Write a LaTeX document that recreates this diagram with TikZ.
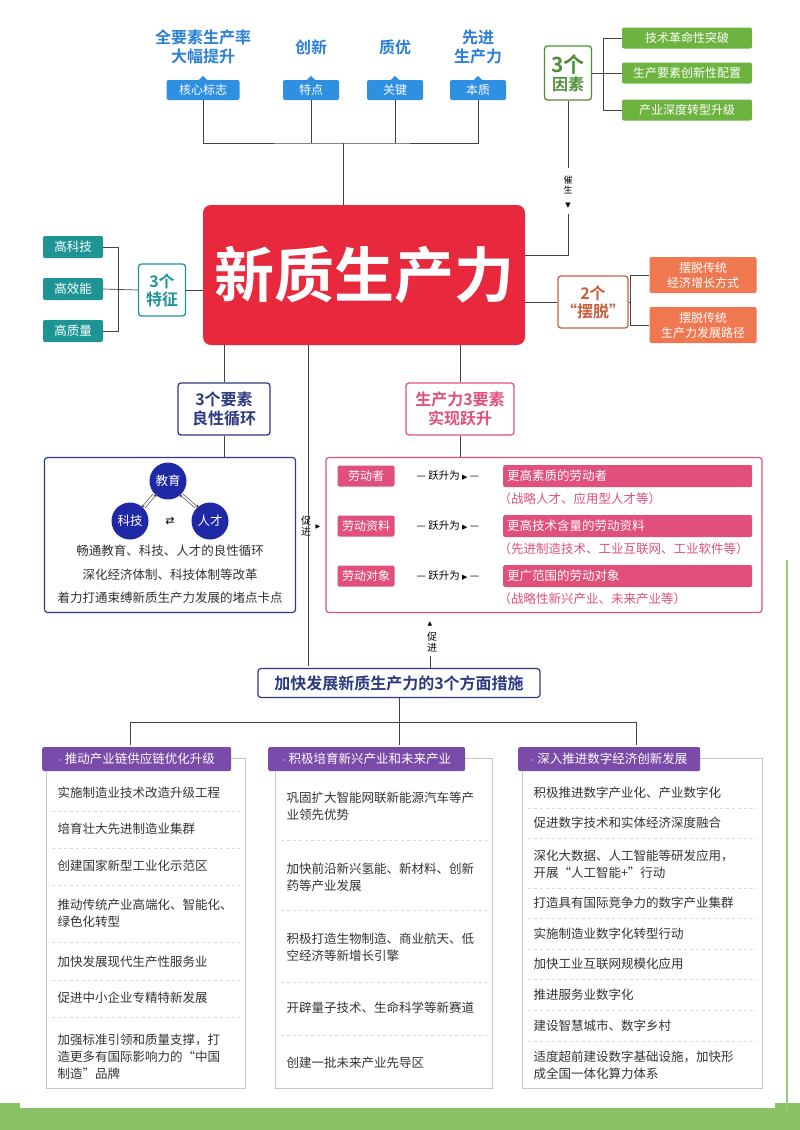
\documentclass[tikz,border=0pt]{standalone}
\usepackage{fontspec}
\setmainfont{Noto Sans CJK SC}
\newfontfamily\cjkb{Noto Sans CJK SC Bold}
\newfontfamily\dv{DejaVu Sans}
\usetikzlibrary{positioning}
\definecolor{bl}{HTML}{2F8FE0}
\definecolor{blt}{HTML}{2A7FD6}
\definecolor{gr}{HTML}{6DB33F}
\definecolor{grd}{HTML}{4E8F35}
\definecolor{tl}{HTML}{1E9494}
\definecolor{rd}{HTML}{E8283C}
\definecolor{og}{HTML}{F07850}
\definecolor{ogd}{HTML}{C8603E}
\definecolor{nv}{HTML}{2C3A80}
\definecolor{pk}{HTML}{E0507A}
\definecolor{pu}{HTML}{7A4BA8}
\definecolor{ln}{HTML}{444444}
\definecolor{tx}{HTML}{333333}
\begin{document}
\begin{tikzpicture}[x=1pt,y=-1pt,
  lab/.style={font=\cjkb\fontsize{16}{19}\selectfont,text=blt,align=center,inner sep=0},
  badge/.style={fill=bl,text=white,rounded corners=2pt,minimum height=20pt,font=\fontsize{12}{13}\selectfont,inner sep=2pt},
  gbox/.style={fill=gr,text=white,rounded corners=2pt,minimum width=130pt,minimum height=21pt,font=\fontsize{12}{13}\selectfont},
  tbox/.style={fill=tl,text=white,rounded corners=2pt,minimum width=60pt,minimum height=22pt,font=\fontsize{12.5}{13}\selectfont},
  obox/.style={fill=og,text=white,rounded corners=2pt,minimum width=107pt,minimum height=36pt,font=\fontsize{12}{15}\selectfont,align=center},
  ring/.style={draw=#1,line width=1.3pt,rounded corners=3pt,fill=white,align=center,inner sep=3pt},
  wire/.style={draw=ln,line width=0.7pt},
  cir/.style={circle,fill=nv!70!blue,text=white,minimum size=37pt,inner sep=0,font=\fontsize{12.5}{13}\selectfont},
  ltx/.style={font=\fontsize{12.5}{14}\selectfont,text=tx},
  lab2/.style={fill=pk,text=white,rounded corners=2pt,minimum width=57pt,minimum height=21pt,font=\fontsize{12}{13}\selectfont},
  strip/.style={fill=pk,text=white,rounded corners=2pt,minimum width=249pt,minimum height=22pt,font=\fontsize{12.5}{13}\selectfont,anchor=west,text width=241pt},
  par/.style={font=\fontsize{12.5}{13}\selectfont,text=pk,anchor=west},
  hdr/.style={fill=pu,text=white,rounded corners=2pt,minimum height=24pt,font=\fontsize{12.5}{13}\selectfont,anchor=west},
  item/.style={font=\fontsize{12.5}{17}\selectfont,text=tx,anchor=west,align=left},
  sep/.style={draw=gray!30,line width=0.5pt,dashed},
  col/.style={draw=gray!45,line width=0.6pt}
]
\useasboundingbox (0,0) rectangle (800,1130);
\fill[white] (0,0) rectangle (800,1130);
\fill[gr!80] (0,1103) -- (800,1103) -- (800,1130) -- (0,1130) -- cycle;
\fill[white] (20,1098) rectangle (775,1108);
\draw[gr!70,line width=2pt] (787,560) -- (787,1110);
% top labels
\node[lab] (t1) at (203,47) {全要素生产率\\大幅提升};
\node[lab] (t2) at (311,47) {创新};
\node[lab] (t3) at (395,47) {质优};
\node[lab] (t4) at (478,47) {先进\\生产力};
\node[badge,minimum width=73pt] (b1) at (203,90) {核心标志};
\node[badge,minimum width=56pt] (b2) at (311,90) {特点};
\node[badge,minimum width=56pt] (b3) at (395,90) {关键};
\node[badge,minimum width=56pt] (b4) at (478,90) {本质};
\foreach \b in {b1,b2,b3,b4}{\fill[bl] ([xshift=-4pt]\b.north) -- ([yshift=4pt]\b.north) -- ([xshift=4pt]\b.north) -- cycle;}
% main box
\node[fill=rd,rounded corners=8pt,minimum width=322pt,minimum height=140pt,text=white,font=\cjkb\fontsize{60}{64}\selectfont] (main) at (364,275) {新质生产力};
\coordinate (jt) at (343,143);
\draw[wire] (b1.south) |- (jt) -| (b4.south);
\draw[wire] (b2.south) -- (b2.south |- jt);
\draw[wire] (b3.south) -- (b3.south |- jt);
\draw[wire] (jt) -- (jt |- main.north);
% 3 factors
\node[ring=grd,text=grd,font=\cjkb\fontsize{16}{18}\selectfont,minimum width=47pt,minimum height=54pt] (f3) at (568,73) {\fontsize{21}{21}\selectfont 3个\\因素};
\node[gbox] (g1) at (687,38) {技术革命性突破};
\node[gbox] (g2) at (687,73) {生产要素创新性配置};
\node[gbox] (g3) at (687,110) {产业深度转型升级};
\draw[wire] (f3.east) -- (603,73);
\draw[wire] (g1.west) -- (603,38) -- (603,110) -- (g3.west);
\draw[wire] (603,73) -- (g2.west);
\coordinate (cs) at (568,255);
\draw[wire] (f3.south) -- (568,168);
\node[font=\fontsize{9}{10}\selectfont,align=center,inner sep=0] (cui) at (568,185) {催\\生};
\node[font=\dv\fontsize{7}{7}\selectfont,inner sep=0] (ca) at (568,206) {▼};
\draw[wire] (568,214) -- (cs) -- (main.east |- cs);
% 3 features
\node[ring=tl,text=tl,font=\cjkb\fontsize{16}{18}\selectfont,minimum width=47pt,minimum height=52pt] (f4) at (162,290) {3个\\特征};
\node[tbox] (h1) at (73,247) {高科技};
\node[tbox] (h2) at (73,289) {高效能};
\node[tbox] (h3) at (73,331) {高质量};
\draw[wire] (h1.east) -- (118,247) -- (118,331) -- (h3.east);
\draw[wire] (h2.east) -- (f4.west);
\draw[wire] (f4.east) -- (main.west |- f4.east);
% 2 escapes
\node[ring=ogd,text=ogd,font=\cjkb\fontsize{16}{18}\selectfont,minimum width=54pt,minimum height=52pt] (f2) at (593,302) {2个\\“摆脱”};
\node[obox] (o1) at (703,275) {摆脱传统\\经济增长方式};
\node[obox] (o2) at (703,325) {摆脱传统\\生产力发展路径};
\draw[wire] (main.east |- f2.west) -- (f2.west);
\draw[wire] (f2.east) -- (630,302);
\draw[wire] (o1.west) -- (630,275) -- (630,325) -- (o2.west);
% middle-left
\node[ring=nv,text=nv,font=\cjkb\fontsize{16}{19}\selectfont,minimum width=92pt,minimum height=52pt] (e3) at (224,409) {3个要素\\良性循环};
\draw[wire] (e3.north |- main.south) -- (e3.north);
\node[draw=nv,line width=1.2pt,rounded corners=3pt,minimum width=251pt,minimum height=155pt] (lb) at (170,535) {};
\draw[wire] (e3.south) -- (e3.south |- lb.north);
\node[cir] (jy) at (168,481) {教育};
\node[cir] (kj) at (130,521) {科技};
\node[cir] (rc) at (210,521) {人才};
\draw[ln,->,>=stealth,line width=0.5pt] ([xshift=-2pt]jy.225) -- ([xshift=-2pt]kj.45);
\draw[ln,<-,>=stealth,line width=0.5pt] ([xshift=2pt]jy.225) -- ([xshift=2pt]kj.45);
\draw[ln,->,>=stealth,line width=0.5pt] ([xshift=2pt]jy.315) -- ([xshift=2pt]rc.135);
\draw[ln,<-,>=stealth,line width=0.5pt] ([xshift=-2pt]jy.315) -- ([xshift=-2pt]rc.135);
\node[font=\dv\fontsize{11}{11}\selectfont,inner sep=0] (sw) at (170,521) {⇄};
\node[ltx] (l1) at (170,551) {畅通教育、科技、人才的良性循环};
\node[ltx] (l2) at (170,575) {深化经济体制、科技体制等改革};
\node[ltx] (l3) at (170,598) {着力打通束缚新质生产力发展的堵点卡点};
% middle-right
\node[ring=pk,text=pk,font=\cjkb\fontsize{16}{19}\selectfont,minimum width=108pt,minimum height=52pt] (e4) at (460,409) {生产力3要素\\实现跃升};
\draw[wire] (e4.north |- main.south) -- (e4.north);
\node[draw=pk,line width=1.2pt,rounded corners=3pt,minimum width=436pt,minimum height=155pt] (rb) at (544,535) {};
\draw[wire] (e4.south) -- (e4.south |- rb.north);
\foreach \n/\a/\b/\c/\y in {1/劳动者/更高素质的劳动者/（战略人才、应用型人才等）/476,2/劳动资料/更高技术含量的劳动资料/（先进制造技术、工业互联网、工业软件等）/526,3/劳动对象/更广范围的劳动对象/（战略性新兴产业、未来产业等）/576}{
  \node[lab2] (r\n) at (366,\y) {\a};
  \node[font=\fontsize{10.5}{11}\selectfont,inner sep=0] (j\n) at (448,\y) {— 跃升为 {\dv\fontsize{7}{7}\selectfont▶} —};
  \node[strip] (s\n) at (503,\y) {\b};
  \node[par] (p\n) at (495,\y+23) {\c};
}
\node[font=\fontsize{10}{11}\selectfont,align=center,inner sep=0] (cj1) at (306,526) {促\\进};
\node[font=\dv\fontsize{6}{6}\selectfont,inner sep=0] (cj1a) at (318,527) {▶};
% measures
\node[draw=nv,line width=1.2pt,rounded corners=3pt,fill=white,text=nv,font=\cjkb\fontsize{16}{18}\selectfont,minimum width=282pt,minimum height=29pt] (ms) at (399,683) {加快发展新质生产力的3个方面措施};
\draw[wire] (308,345) -- (308,666);
\node[font=\dv\fontsize{6}{6}\selectfont,inner sep=0] (cj2a) at (430,624) {▲};
\node[font=\fontsize{10}{11}\selectfont,align=center,inner sep=0] (cj2) at (432,642) {促\\进};
\draw[wire] (430,656) -- (ms.north -| 430,0);
% bottom tree
\draw[wire] (ms.south) -- (399,722);
\draw[wire] (130,745) -- (130,722) -- (636,722) -- (636,745);
\draw[wire] (399,722) -- (399,745);
% columns
\draw[col] (231,758) -- (245,758) -- (245,1088) -- (46,1088) -- (46,770);
\draw[col] (465,758) -- (492,758) -- (492,1088) -- (275,1088) -- (275,770);
\draw[col] (700,758) -- (762,758) -- (762,1088) -- (522,1088) -- (522,770);
\node[hdr,minimum width=189pt] (c1) at (42,759) {$\cdot$ 推动产业链供应链优化升级};
\node[hdr,minimum width=197pt] (c2) at (268,759) {$\cdot$ 积极培育新兴产业和未来产业};
\node[hdr,minimum width=182pt] (c3) at (518,759) {$\cdot$ 深入推进数字经济创新发展};
\node[item] (a1) at (54,793) {实施制造业技术改造升级工程};
\node[item] (a2) at (54,829) {培育壮大先进制造业集群};
\node[item] (a3) at (54,866) {创建国家新型工业化示范区};
\node[item] (a4) at (54,913) {推动传统产业高端化、智能化、\\绿色化转型};
\node[item] (a5) at (54,962) {加快发展现代生产性服务业};
\node[item] (a6) at (54,998) {促进中小企业专精特新发展};
\node[item] (a7) at (54,1057) {加强标准引领和质量支撑，打\\造更多有国际影响力的“中国\\制造”品牌};
\foreach \y in {811,848,885,942,980,1017}{\draw[sep] (52,\y) -- (240,\y);}
\node[item] (b21) at (283,806) {巩固扩大智能网联新能源汽车等产\\业领先优势};
\node[item] (b22) at (283,877) {加快前沿新兴氢能、新材料、创新\\药等产业发展};
\node[item] (b23) at (283,947) {积极打造生物制造、商业航天、低\\空经济等新增长引擎};
\node[item] (b24) at (283,1008) {开辟量子技术、生命科学等新赛道};
\node[item] (b25) at (283,1063) {创建一批未来产业先导区};
\foreach \y in {840,910,982,1035}{\draw[sep] (281,\y) -- (487,\y);}
\node[item] (d1) at (530,793) {积极推进数字产业化、产业数字化};
\node[item] (d2) at (530,823) {促进数字技术和实体经济深度融合};
\node[item] (d3) at (530,864) {深化大数据、人工智能等研发应用，\\开展“人工智能+”行动};
\node[item] (d4) at (530,903) {打造具有国际竞争力的数字产业集群};
\node[item] (d5) at (530,934) {实施制造业数字化转型行动};
\node[item] (d6) at (530,964) {加快工业互联网规模化应用};
\node[item] (d7) at (530,995) {推进服务业数字化};
\node[item] (d8) at (530,1026) {建设智慧城市、数字乡村};
\node[item] (d9) at (530,1065) {适度超前建设数字基础设施，加快形\\成全国一体化算力体系};
\foreach \y in {808,838,888,918,949,979,1010,1041}{\draw[sep] (528,\y) -- (757,\y);}
\end{tikzpicture}
\end{document}
